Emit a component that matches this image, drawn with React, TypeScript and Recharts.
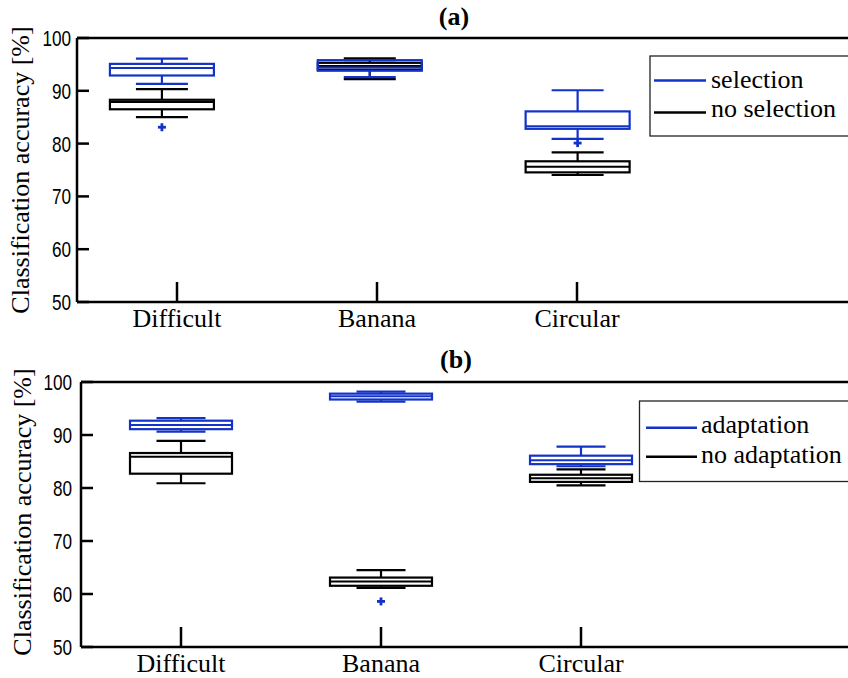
import React from 'react';
import { ComposedChart, Bar, XAxis, YAxis } from 'recharts';

const categories = ['Difficult', 'Banana', 'Circular'];
const yTicks = [50, 60, 70, 80, 90, 100];
const xTicks = [1, 2, 3];

// panel (a): selection (blue)
const selMin = [91.3, 92.6, 80.9];
const selQ1 = [92.9, 93.8, 82.8];
const selMed = [94.3, 94.4, 83.3];
const selQ3 = [95.1, 95.8, 86.1];
const selMax = [96.1, 95.8, 90.1];
const selOut = [[83.1], [], [80.1]];

// panel (a): no selection (black)
const noSelMin = [85.0, 92.2, 74.05];
const noSelQ1 = [86.5, 94.0, 74.55];
const noSelMed = [87.9, 94.7, 75.6];
const noSelQ3 = [88.3, 95.3, 76.65];
const noSelMax = [90.3, 96.15, 78.35];
const noSelOut = [[], [], []];

// panel (b): adaptation (blue)
const adaMin = [90.65, 96.3, 84.1];
const adaQ1 = [91.1, 96.7, 84.5];
const adaMed = [91.9, 97.3, 85.25];
const adaQ3 = [92.7, 97.8, 86.1];
const adaMax = [93.2, 98.2, 87.8];
const adaOut = [[], [], []];

// panel (b): no adaptation (black)
const noAdaMin = [80.9, 61.15, 80.5];
const noAdaQ1 = [82.7, 61.55, 81.15];
const noAdaMed = [85.9, 62.35, 81.85];
const noAdaQ3 = [86.6, 63.1, 82.5];
const noAdaMax = [88.9, 64.5, 83.5];
const noAdaOut = [[], [58.6], []];

const legendA = ['selection', 'no selection'];
const legendB = ['adaptation', 'no adaptation'];

const BLUE = '#1232c8';
const BLACK = '#000000';
const SERIF_STYLE = { fontFamily: '"Liberation Serif", "DejaVu Serif", serif' };
const SANS_STYLE = { fontFamily: '"Liberation Sans", Arial, sans-serif' };

type Stat = { min: number; q1: number; med: number; q3: number; max: number; out: number[] };

const stat = (mn: number[], q1: number[], md: number[], q3: number[], mx: number[], out: number[][], i: number): Stat => ({
  min: mn[i], q1: q1[i], med: md[i], q3: q3[i], max: mx[i], out: out[i],
});

const dataA = categories.map((name, i) => ({
  pos: i + 1,
  name,
  black: stat(noSelMin, noSelQ1, noSelMed, noSelQ3, noSelMax, noSelOut, i),
  blue: stat(selMin, selQ1, selMed, selQ3, selMax, selOut, i),
}));

const dataB = categories.map((name, i) => ({
  pos: i + 1,
  name,
  black: stat(noAdaMin, noAdaQ1, noAdaMed, noAdaQ3, noAdaMax, noAdaOut, i),
  blue: stat(adaMin, adaQ1, adaMed, adaQ3, adaMax, adaOut, i),
}));

const allVals = (d: any): number[] => {
  const v: number[] = [];
  [d.black, d.blue].forEach((s: Stat) => {
    v.push(s.min, s.q1, s.med, s.q3, s.max, ...s.out);
  });
  return v;
};

const rangeKey = (d: any) => {
  const v = allVals(d);
  return [Math.min(...v), Math.max(...v)];
};

const BoxPair = (props: any) => {
  const { x, y, width, height, payload, boxW, capW } = props;
  if (payload == null || x == null || y == null) return null;
  const v = allVals(payload);
  const lo = Math.min(...v);
  const hi = Math.max(...v);
  const top = Math.min(y, y + height);
  const span = Math.abs(height);
  const ppu = span / (hi - lo);
  const toY = (val: number) => top + (hi - val) * ppu;
  const cx = x + width / 2;
  const drawBox = (s: Stat, color: string, key: string) => (
    <g key={key}>
      <line x1={cx} x2={cx} y1={toY(s.q3)} y2={toY(s.max)} stroke={color} strokeWidth={2.2} />
      <line x1={cx} x2={cx} y1={toY(s.q1)} y2={toY(s.min)} stroke={color} strokeWidth={2.2} />
      <line x1={cx - capW / 2} x2={cx + capW / 2} y1={toY(s.max)} y2={toY(s.max)} stroke={color} strokeWidth={2.2} />
      <line x1={cx - capW / 2} x2={cx + capW / 2} y1={toY(s.min)} y2={toY(s.min)} stroke={color} strokeWidth={2.2} />
      <rect x={cx - boxW / 2} y={toY(s.q3)} width={boxW} height={toY(s.q1) - toY(s.q3)} fill="none" stroke={color} strokeWidth={2.2} />
      <line x1={cx - boxW / 2} x2={cx + boxW / 2} y1={toY(s.med)} y2={toY(s.med)} stroke={color} strokeWidth={2} />
    </g>
  );
  const outs: any[] = [];
  [payload.black, payload.blue].forEach((s: Stat, si: number) => {
    s.out.forEach((o: number, oi: number) => {
      const oy = toY(o);
      outs.push(
        <g key={`o${si}-${oi}`}>
          <line x1={cx - 4} x2={cx + 4} y1={oy} y2={oy} stroke={BLUE} strokeWidth={2.8} />
          <line x1={cx} x2={cx} y1={oy - 4} y2={oy + 4} stroke={BLUE} strokeWidth={2.8} />
        </g>
      );
    });
  });
  return (
    <g>
      {drawBox(payload.black, BLACK, 'k')}
      {drawBox(payload.blue, BLUE, 'b')}
      {outs}
    </g>
  );
};

const YTick = (props: any) => {
  const { x, y, payload, m } = props;
  const ax = x + m;
  return (
    <g>
      <line x1={ax} x2={ax + 12} y1={y} y2={y} stroke={BLACK} strokeWidth={2.5} />
      <text
        transform={`translate(${x},${y}) scale(0.78,1)`}
        textAnchor="end"
        dy="0.36em"
        style={SANS_STYLE}
        fontSize={22}
        fill={BLACK}
      >
        {payload.value}
      </text>
    </g>
  );
};

const XTick = (props: any) => {
  const { x, y, payload } = props;
  const name = categories[payload.value - 1];
  return (
    <g>
      <line x1={x} x2={x} y1={y} y2={y - 20} stroke={BLACK} strokeWidth={2.5} />
      <text x={x} y={y + 25} textAnchor="middle" style={SERIF_STYLE} fontSize={26} fill={BLACK}>
        {name}
      </text>
    </g>
  );
};

const Panel = ({ data, width, height, margin, boxDomain, tickM, boxW, capW }: any) => (
  <ComposedChart width={width} height={height} data={data} margin={margin}>
    <XAxis
      xAxisId="cat"
      dataKey="pos"
      type="number"
      domain={[0.5, 4.5]}
      ticks={xTicks}
      allowDataOverflow
      interval={0}
      height={1}
      tickSize={0}
      tickMargin={0}
      tickLine={false}
      axisLine={{ stroke: BLACK, strokeWidth: 2.5 }}
      tick={<XTick />}
    />
    <XAxis
      xAxisId="top"
      orientation="top"
      dataKey="pos"
      type="number"
      domain={[0.5, 4.5]}
      allowDataOverflow
      height={1}
      tick={false}
      tickLine={false}
      axisLine={{ stroke: BLACK, strokeWidth: 2.5 }}
    />
    <XAxis xAxisId="box" dataKey="pos" type="number" domain={boxDomain} allowDataOverflow hide height={0} />
    <YAxis
      type="number"
      domain={[50, 100]}
      ticks={yTicks}
      allowDataOverflow
      interval={0}
      width={1}
      tickSize={0}
      tickMargin={tickM}
      tickLine={false}
      axisLine={{ stroke: BLACK, strokeWidth: 2.5 }}
      tick={<YTick m={tickM} />}
    />
    <Bar
      xAxisId="box"
      dataKey={rangeKey}
      barSize={boxW}
      isAnimationActive={false}
      shape={(p: any) => <BoxPair {...p} boxW={boxW} capW={capW} />}
    />
  </ComposedChart>
);

const LegendBox = ({ x, y, h, items, lineX1, lineX2, textX, lineYs, baseYs }: any) => (
  <g>
    <rect x={x} y={y} width={848 - x + 20} height={h} fill="#fff" stroke="#222" strokeWidth={1.3} />
    {items.map((t: string, i: number) => (
      <g key={t}>
        <line x1={lineX1} x2={lineX2} y1={lineYs[i]} y2={lineYs[i]} stroke={i === 0 ? BLUE : BLACK} strokeWidth={2.6} />
        <text x={textX} y={baseYs[i]} style={SERIF_STYLE} fontSize={26} fill={BLACK}>
          {t}
        </text>
      </g>
    ))}
  </g>
);

export default function App() {
  return (
    <div style={{ position: 'absolute', left: 0, top: 0, width: 848, height: 678, overflow: 'hidden', background: '#fff' }}>
      <div style={{ position: 'absolute', left: 0, top: 0 }}>
        <Panel
          data={dataA}
          width={900}
          height={340}
          margin={{ top: 37, left: 76, right: 23, bottom: 37 }}
          boxDomain={[0.5918, 4.4407]}
          tickM={6}
          boxW={104}
          capW={52}
        />
      </div>
      <div style={{ position: 'absolute', left: 0, top: 340 }}>
        <Panel
          data={dataB}
          width={900}
          height={338}
          margin={{ top: 41, left: 80, right: 19, bottom: 30 }}
          boxDomain={[0.5, 4.5]}
          tickM={9}
          boxW={102}
          capW={49}
        />
      </div>
      <svg style={{ position: 'absolute', left: 0, top: 0 }} width={848} height={678}>
        <text x={454} y={25} textAnchor="middle" style={SERIF_STYLE} fontWeight="bold" fontSize={26}>(a)</text>
        <text x={456} y={368} textAnchor="middle" style={SERIF_STYLE} fontWeight="bold" fontSize={26}>(b)</text>
        <text transform="translate(29,170) rotate(-90)" textAnchor="middle" style={SERIF_STYLE} fontSize={26}>
          Classification accuracy [%]
        </text>
        <text transform="translate(31,512) rotate(-90)" textAnchor="middle" style={SERIF_STYLE} fontSize={26}>
          Classification accuracy [%]
        </text>
        <LegendBox x={650} y={56} h={80} items={legendA} lineX1={654} lineX2={706} textX={711} lineYs={[80.5, 112.5]} baseYs={[87.5, 117]} />
        <LegendBox x={639.5} y={401} h={80.5} items={legendB} lineX1={646} lineX2={697} textX={701} lineYs={[427.7, 456.7]} baseYs={[432.5, 462.5]} />
      </svg>
    </div>
  );
}
